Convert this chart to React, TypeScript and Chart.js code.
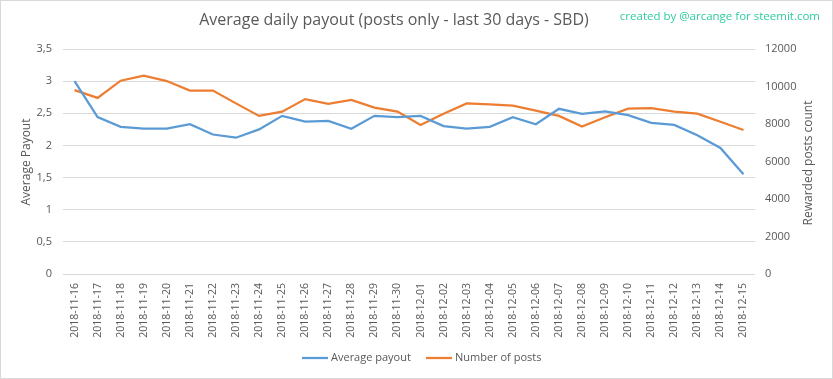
import { useEffect, useRef } from 'react';
import { Chart, registerables } from 'chart.js';

Chart.register(...registerables);

const dates = [
  '2018-11-16', '2018-11-17', '2018-11-18', '2018-11-19', '2018-11-20', '2018-11-21',
  '2018-11-22', '2018-11-23', '2018-11-24', '2018-11-25', '2018-11-26', '2018-11-27',
  '2018-11-28', '2018-11-29', '2018-11-30', '2018-12-01', '2018-12-02', '2018-12-03',
  '2018-12-04', '2018-12-05', '2018-12-06', '2018-12-07', '2018-12-08', '2018-12-09',
  '2018-12-10', '2018-12-11', '2018-12-12', '2018-12-13', '2018-12-14', '2018-12-15',
];

const averagePayout = [
  3.0, 2.44, 2.29, 2.26, 2.26, 2.33, 2.17, 2.12, 2.25, 2.46,
  2.37, 2.38, 2.26, 2.46, 2.44, 2.46, 2.3, 2.26, 2.29, 2.44,
  2.33, 2.57, 2.49, 2.53, 2.47, 2.35, 2.32, 2.16, 1.96, 1.55,
];

const numberOfPosts = [
  9810, 9390, 10310, 10580, 10290, 9780, 9780, 9100, 8430, 8660,
  9330, 9080, 9280, 8870, 8660, 7950, 8550, 9100, 9050, 8980,
  8710, 8430, 7860, 8360, 8820, 8850, 8660, 8550, 8120, 7680,
];

const chartTitle = 'Average daily payout (posts only - last 30 days - SBD)';
const creditText = 'created by @arcange for steemit.com';
const leftAxisTitle = 'Average Payout';
const rightAxisTitle = 'Rewarded posts count';

const BLUE = '#5B9BD5';
const ORANGE = '#ED7D31';
const TEXT = '#595959';
const GRID = '#d9d9d9';
const FONT = "'Open Sans', 'Liberation Sans', sans-serif";

const decor = {
  id: 'decor',
  afterDraw(chart: any) {
    const ctx = chart.ctx as CanvasRenderingContext2D;
    ctx.save();
    // outer border
    ctx.strokeStyle = GRID;
    ctx.lineWidth = 1;
    ctx.strokeRect(0.5, 0.5, chart.width - 1, chart.height - 1);

    // title
    ctx.fillStyle = TEXT;
    ctx.font = `16px ${FONT}`;
    ctx.textAlign = 'center';
    ctx.textBaseline = 'middle';
    ctx.fillText(chartTitle, 394, 20);

    // credit
    ctx.fillStyle = '#2ecc9f';
    ctx.font = `11.5px ${FONT}`;
    ctx.textAlign = 'right';
    ctx.fillText(creditText, 820, 17);

    // axis titles
    ctx.fillStyle = TEXT;
    ctx.font = `12px ${FONT}`;
    ctx.textAlign = 'center';
    ctx.save();
    ctx.translate(27, 162);
    ctx.rotate(-Math.PI / 2);
    ctx.fillText(leftAxisTitle, 0, 0);
    ctx.restore();
    ctx.save();
    ctx.translate(809, 163);
    ctx.rotate(-Math.PI / 2);
    ctx.fillText(rightAxisTitle, 0, 0);
    ctx.restore();

    // legend
    const items = [
      { x: 302, ds: chart.data.datasets[0] },
      { x: 426, ds: chart.data.datasets[1] },
    ];
    ctx.font = `11px ${FONT}`;
    ctx.textAlign = 'left';
    for (const it of items) {
      ctx.strokeStyle = it.ds.borderColor;
      ctx.lineWidth = 2.25;
      ctx.beginPath();
      ctx.moveTo(it.x, 358);
      ctx.lineTo(it.x + 26, 358);
      ctx.stroke();
      ctx.fillStyle = TEXT;
      ctx.fillText(it.ds.label, it.x + 29, 358);
    }
    ctx.restore();
  },
};

export default function App() {
  const ref = useRef<HTMLCanvasElement>(null);
  useEffect(() => {
    document.body.style.margin = '0';
    const canvas = ref.current;
    if (!canvas) return;
    const chart = new Chart(canvas, {
      type: 'line',
      data: {
        labels: dates,
        datasets: [
          {
            label: 'Average payout',
            data: averagePayout,
            borderColor: BLUE,
            backgroundColor: BLUE,
            borderWidth: 2.25,
            pointRadius: 0,
            tension: 0,
            yAxisID: 'y',
          },
          {
            label: 'Number of posts',
            data: numberOfPosts,
            borderColor: ORANGE,
            backgroundColor: ORANGE,
            borderWidth: 2.25,
            pointRadius: 0,
            tension: 0,
            yAxisID: 'y1',
          },
        ],
      },
      options: {
        responsive: false,
        maintainAspectRatio: false,
        animation: false,
        layout: { padding: { top: 49, left: 0, right: 0, bottom: 0 } },
        plugins: {
          legend: { display: false },
          title: { display: false },
          tooltip: { enabled: false },
        },
        scales: {
          x: {
            offset: true,
            grid: { display: false, drawTicks: false },
            border: { display: false },
            ticks: {
              autoSkip: false,
              minRotation: 90,
              maxRotation: 90,
              padding: 9,
              color: TEXT,
              font: { family: FONT, size: 10.5 },
            },
            afterFit: (s: any) => {
              s.height = 105;
            },
          },
          y: {
            position: 'left',
            min: 0,
            max: 3.5,
            grid: { color: GRID, drawTicks: false },
            border: { display: false },
            ticks: {
              stepSize: 0.5,
              padding: 11,
              color: TEXT,
              font: { family: FONT, size: 11 },
              callback: (v: any) => String(v).replace('.', ','),
            },
            afterFit: (s: any) => {
              s.width = 63;
            },
          },
          y1: {
            position: 'right',
            min: 0,
            max: 12000,
            grid: { display: false, drawTicks: false },
            border: { display: false },
            ticks: {
              stepSize: 2000,
              padding: 10,
              color: TEXT,
              font: { family: FONT, size: 11 },
              callback: (v: any) => String(v),
            },
            afterFit: (s: any) => {
              s.width = 78;
            },
          },
        },
      },
      plugins: [decor],
    });
    return () => chart.destroy();
  }, []);
  return <canvas ref={ref} width={833} height={379} style={{ display: 'block' }} />;
}
